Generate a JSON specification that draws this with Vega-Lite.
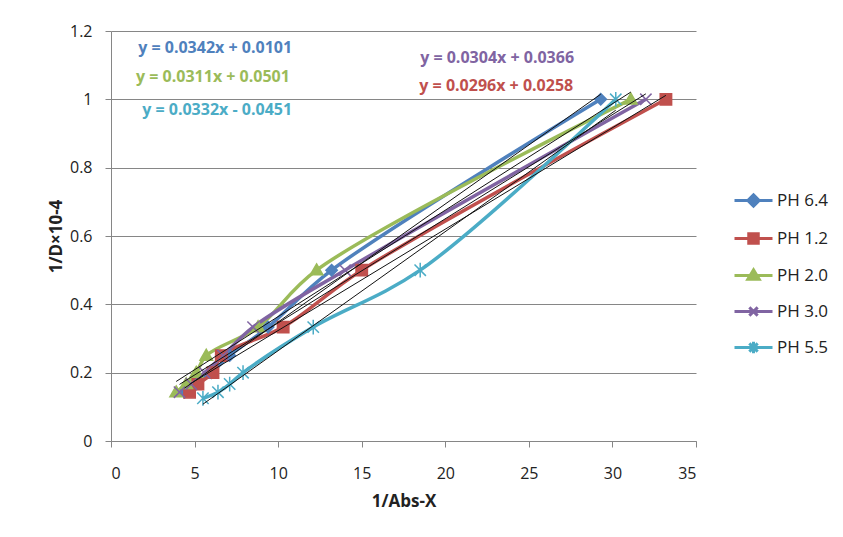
{
  "$schema": "https://vega.github.io/schema/vega-lite/v6.json",
  "autosize": "none",
  "width": 585,
  "height": 410,
  "padding": {"left": 111, "top": 31, "right": 147, "bottom": 96},
  "background": "white",
  "config": {
    "view": {"stroke": null},
    "font": "Open Sans",
    "axis": {
      "labelFont": "Open Sans", "labelFontSize": 16, "labelColor": "#222222",
      "titleFont": "Open Sans", "titleFontSize": 17, "titleFontWeight": "bold", "titleColor": "#222222",
      "domainColor": "#868686", "tickColor": "#868686", "gridColor": "#868686", "gridWidth": 1, "tickSize": 6
    }
  },
  "datasets": {
    "pts": [
      {"series": "PH 6.4", "x": 4.4, "y": 0.1429},
      {"series": "PH 6.4", "x": 5.1, "y": 0.1667},
      {"series": "PH 6.4", "x": 6.0, "y": 0.2},
      {"series": "PH 6.4", "x": 7.1, "y": 0.25},
      {"series": "PH 6.4", "x": 9.4, "y": 0.3333},
      {"series": "PH 6.4", "x": 13.2, "y": 0.5},
      {"series": "PH 6.4", "x": 29.3, "y": 1},
      {"series": "PH 1.2", "x": 4.7, "y": 0.1429},
      {"series": "PH 1.2", "x": 5.2, "y": 0.1667},
      {"series": "PH 1.2", "x": 6.1, "y": 0.2},
      {"series": "PH 1.2", "x": 6.6, "y": 0.25},
      {"series": "PH 1.2", "x": 10.3, "y": 0.3333},
      {"series": "PH 1.2", "x": 15.0, "y": 0.5},
      {"series": "PH 1.2", "x": 33.2, "y": 1},
      {"series": "PH 2.0", "x": 3.9, "y": 0.1429},
      {"series": "PH 2.0", "x": 4.5, "y": 0.1667},
      {"series": "PH 2.0", "x": 5.1, "y": 0.2},
      {"series": "PH 2.0", "x": 5.7, "y": 0.25},
      {"series": "PH 2.0", "x": 8.8, "y": 0.3333},
      {"series": "PH 2.0", "x": 12.3, "y": 0.5},
      {"series": "PH 2.0", "x": 31.1, "y": 1},
      {"series": "PH 3.0", "x": 4.1, "y": 0.1429},
      {"series": "PH 3.0", "x": 4.8, "y": 0.1667},
      {"series": "PH 3.0", "x": 5.6, "y": 0.2},
      {"series": "PH 3.0", "x": 6.7, "y": 0.25},
      {"series": "PH 3.0", "x": 8.5, "y": 0.3333},
      {"series": "PH 3.0", "x": 14.0, "y": 0.5},
      {"series": "PH 3.0", "x": 32.0, "y": 1},
      {"series": "PH 5.5", "x": 5.5, "y": 0.125},
      {"series": "PH 5.5", "x": 6.4, "y": 0.1429},
      {"series": "PH 5.5", "x": 7.1, "y": 0.1667},
      {"series": "PH 5.5", "x": 7.9, "y": 0.2},
      {"series": "PH 5.5", "x": 12.1, "y": 0.3333},
      {"series": "PH 5.5", "x": 18.5, "y": 0.5},
      {"series": "PH 5.5", "x": 30.2, "y": 1}
    ],
    "eqs": [
      {"series": "PH 6.4", "x": 6.23, "y": 1.15, "label": "y = 0.0342x + 0.0101"},
      {"series": "PH 2.0", "x": 6.1, "y": 1.065, "label": "y = 0.0311x + 0.0501"},
      {"series": "PH 5.5", "x": 6.35, "y": 0.969, "label": "y = 0.0332x - 0.0451"},
      {"series": "PH 3.0", "x": 23.1, "y": 1.121, "label": "y = 0.0304x + 0.0366"},
      {"series": "PH 1.2", "x": 23.05, "y": 1.039, "label": "y = 0.0296x + 0.0258"}
    ]
  },
  "resolve": {"scale": {"shape": "independent", "fill": "independent", "stroke": "independent"}},
  "layer": [
    {
      "data": {"name": "pts"},
      "mark": {"type": "line", "strokeWidth": 3.5, "interpolate": "catmull-rom"},
      "encoding": {
        "x": {"field": "x", "type": "quantitative", "title": "1/Abs-X",
              "scale": {"domain": [0, 35], "nice": false},
              "axis": {"values": [0, 5, 10, 15, 20, 25, 30, 35], "grid": false, "labelPadding": 18, "titlePadding": 12}},
        "y": {"field": "y", "type": "quantitative", "title": "1/D×10-4",
              "scale": {"domain": [0, 1.2], "nice": false},
              "axis": {"values": [0, 0.2, 0.4, 0.6, 0.8, 1, 1.2], "format": "~g", "grid": true, "labelPadding": 13, "titlePadding": 4}},
        "color": {"field": "series", "type": "nominal",
                  "scale": {"domain": ["PH 6.4", "PH 1.2", "PH 2.0", "PH 3.0", "PH 5.5"],
                            "range": ["#4F81BD", "#C0504D", "#9BBB59", "#8064A2", "#4BACC6"]},
                  "legend": null}
      }
    },
    {
      "data": {"name": "pts"},
      "mark": {"type": "point", "filled": true, "size": 130, "strokeWidth": 1.5, "opacity": 1},
      "encoding": {
        "x": {"field": "x", "type": "quantitative"},
        "y": {"field": "y", "type": "quantitative"},
        "fill": {"field": "series", "type": "nominal",
                 "scale": {"domain": ["PH 6.4", "PH 1.2", "PH 2.0", "PH 3.0", "PH 5.5"],
                           "range": ["#4F81BD", "#C0504D", "#9BBB59", "#8064A2", "#4BACC6"]},
                 "legend": null},
        "stroke": {"field": "series", "type": "nominal",
                   "scale": {"domain": ["PH 6.4", "PH 1.2", "PH 2.0", "PH 3.0", "PH 5.5"],
                             "range": ["#4F81BD", "#C0504D", "#9BBB59", "#8064A2", "#4BACC6"]},
                   "legend": null},
        "shape": {"field": "series", "type": "nominal",
                  "scale": {"domain": ["PH 6.4", "PH 1.2", "PH 2.0", "PH 3.0", "PH 5.5"],
                            "range": ["M0,-1L1,0L0,1L-1,0Z", "M-1,-1L1,-1L1,1L-1,1Z", "M0,-1.1L1.1,0.8L-1.1,0.8Z", "M-1,-1L1,1M-1,1L1,-1", "M-1,-1L1,1M-1,1L1,-1M0,-1.3L0,1.3"]},
                  "legend": null}
      }
    },
    {
      "data": {"name": "pts"},
      "transform": [{"regression": "y", "on": "x", "groupby": ["series"]}],
      "mark": {"type": "line", "color": "#111111", "strokeWidth": 1},
      "encoding": {
        "x": {"field": "x", "type": "quantitative"},
        "y": {"field": "y", "type": "quantitative"},
        "detail": {"field": "series", "type": "nominal"}
      }
    },
    {
      "data": {"name": "eqs"},
      "mark": {"type": "text", "font": "Open Sans", "fontSize": 16, "fontWeight": "bold", "align": "center", "baseline": "middle"},
      "encoding": {
        "x": {"field": "x", "type": "quantitative"},
        "y": {"field": "y", "type": "quantitative"},
        "text": {"field": "label", "type": "nominal"},
        "color": {"field": "series", "type": "nominal", "legend": null}
      }
    },
    {
      "data": {"name": "pts"},
      "transform": [{"filter": "false"}],
      "mark": {"type": "point", "filled": true, "opacity": 1},
      "encoding": {
        "x": {"field": "x", "type": "quantitative"},
        "y": {"field": "y", "type": "quantitative"},
        "shape": {"field": "series", "type": "nominal",
                  "scale": {"domain": ["PH 6.4", "PH 1.2", "PH 2.0", "PH 3.0", "PH 5.5"],
                            "range": ["M-1,0L1,0M0,-0.3L0.3,0L0,0.3L-0.3,0Z", "M-1,0L1,0M-0.25,-0.25L0.25,-0.25L0.25,0.25L-0.25,0.25Z", "M-1,0L1,0M0,-0.3L0.3,0.2L-0.3,0.2Z", "M-1,0L1,0M-0.22,-0.22L0.22,0.22M-0.22,0.22L0.22,-0.22", "M-1,0L1,0M-0.22,-0.22L0.22,0.22M-0.22,0.22L0.22,-0.22M0,-0.3L0,0.3"]},
                  "legend": {"title": null, "orient": "none", "legendX": 622, "legendY": 149, "symbolSize": 1444, "symbolStrokeWidth": 3, "symbolOpacity": 1, "labelFont": "Open Sans", "labelFontSize": 17, "labelColor": "#222222", "labelOffset": 3, "rowPadding": 5}},
        "fill": {"field": "series", "type": "nominal",
                 "scale": {"domain": ["PH 6.4", "PH 1.2", "PH 2.0", "PH 3.0", "PH 5.5"],
                           "range": ["#4F81BD", "#C0504D", "#9BBB59", "#8064A2", "#4BACC6"]},
                 "legend": {"title": null, "orient": "none", "legendX": 622, "legendY": 149, "symbolSize": 1444, "symbolStrokeWidth": 3, "symbolOpacity": 1, "labelFont": "Open Sans", "labelFontSize": 17, "labelColor": "#222222", "labelOffset": 3, "rowPadding": 5}},
        "stroke": {"field": "series", "type": "nominal",
                   "scale": {"domain": ["PH 6.4", "PH 1.2", "PH 2.0", "PH 3.0", "PH 5.5"],
                             "range": ["#4F81BD", "#C0504D", "#9BBB59", "#8064A2", "#4BACC6"]},
                   "legend": {"title": null, "orient": "none", "legendX": 622, "legendY": 149, "symbolSize": 1444, "symbolStrokeWidth": 3, "symbolOpacity": 1, "labelFont": "Open Sans", "labelFontSize": 17, "labelColor": "#222222", "labelOffset": 3, "rowPadding": 5}}
      }
    }
  ]
}
